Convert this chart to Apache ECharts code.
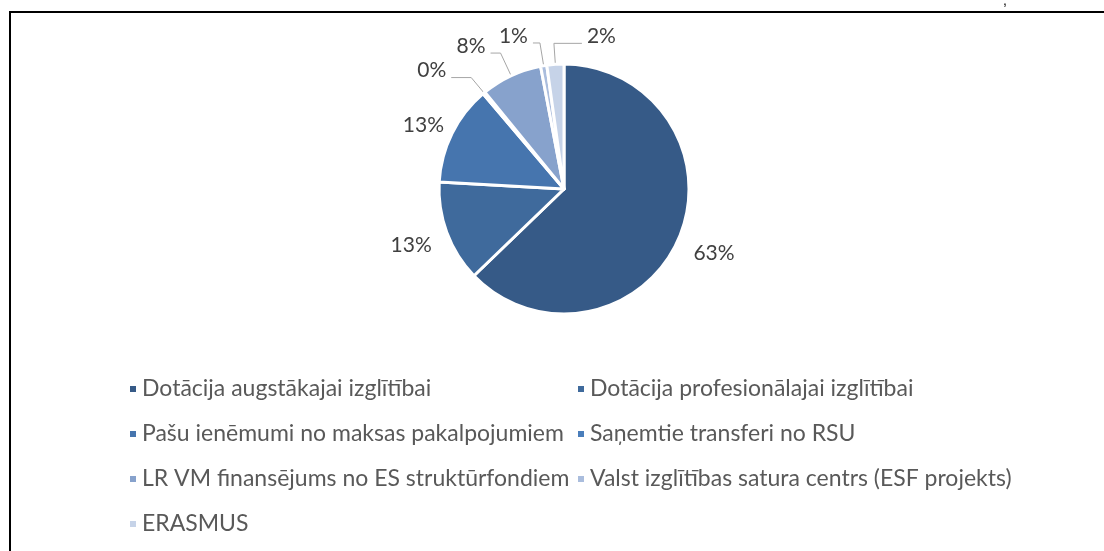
<!DOCTYPE html>
<html>
<head>
<meta charset="utf-8">
<script src="https://cdn.jsdelivr.net/npm/echarts@6/dist/echarts.min.js"></script>
<style>
  html, body { margin: 0; padding: 0; background: #fff; }
  #main { width: 1104px; height: 551px; }
</style>
</head>
<body>
<div id="main"></div>
<script>
// kategorijas un vērtības (%)
var categories = [
    'Dotācija augstākajai izglītībai',
    'Dotācija profesionālajai izglītībai',
    'Pašu ienēmumi no maksas pakalpojumiem',
    'Saņemtie transferi no RSU',
    'LR VM finansējums no ES struktūrfondiem',
    'Valst izglītības satura centrs (ESF projekts)',
    'ERASMUS'
];
var values = [62.8, 13.1, 12.9, 0.3, 7.9, 0.8, 2.2];
var colors = ['#365a87', '#3f6a9c', '#4675ae', '#4a7ebb', '#87a2cc', '#aabddd', '#c6d3e8'];

var leftLegend = [categories[0], categories[2], categories[4], categories[6]];
var rightLegend = [categories[1], categories[3], categories[5]];

// vadlīniju garumi mazajām daļām
var lineLen1 = [10, 10, 10, 20, 25, 23, 21];
var lineLen2 = [0, 0, 0, 20, 10, 7, 28];
// etiķešu attālums lielajām daļām
var labelDist = [38, 38, 32];

var myChart = echarts.init(document.getElementById('main'));

var pieData = categories.map(function (name, i) {
    return {
        name: name,
        value: values[i],
        itemStyle: { color: colors[i] },
        labelLine: {
            length: lineLen1[i],
            length2: lineLen2[i],
            lineStyle: { opacity: i < 3 ? 0 : 1 }
        }
    };
});

var legendText = {
    fontFamily: 'Lato',
    fontSize: 23,
    color: '#595959',
    lineHeight: 24
};

var option = {
    animation: false,
    backgroundColor: '#fff',
    legend: [
        {
            data: leftLegend,
            orient: 'vertical',
            left: 123,
            top: 372,
            itemWidth: 8,
            itemHeight: 8,
            itemGap: 21,
            icon: 'rect',
            textStyle: legendText
        },
        {
            data: rightLegend,
            orient: 'vertical',
            left: 571,
            top: 372,
            itemWidth: 8,
            itemHeight: 8,
            itemGap: 21,
            icon: 'rect',
            textStyle: legendText
        }
    ],
    graphic: [
        { type: 'line', shape: { x1: 9, y1: 12, x2: 1104, y2: 12 }, style: { stroke: '#000', lineWidth: 2 } },
        { type: 'line', shape: { x1: 10, y1: 11, x2: 10, y2: 551 }, style: { stroke: '#000', lineWidth: 2 } },
        { type: 'text', left: 1003, top: -6, style: { text: ',', fontSize: 14, fill: '#000' } }
    ],
    series: [
        {
            type: 'pie',
            center: [564, 189],
            radius: 125,
            startAngle: 90,
            clockwise: true,
            avoidLabelOverlap: false,
            itemStyle: { borderColor: '#fff', borderWidth: 3 },
            label: {
                show: true,
                position: 'outside',
                fontFamily: 'Lato',
                fontSize: 21,
                color: '#404040',
                formatter: function (p) { return Math.round(p.percent) + '%'; }
            },
            labelLine: {
                show: true,
                lineStyle: { color: '#a6a6a6', width: 1 }
            },
            labelLayout: function (params) {
                var pts = params.labelLinePoints;
                if (!pts) {
                    return;
                }
                var i = params.dataIndex;
                var p0 = pts[0], p1 = pts[1];
                if (i < 3) {
                    // lielās daļas: teksts uz viduslīnijas ārpus apļa
                    var dx = p1[0] - p0[0], dy = p1[1] - p0[1];
                    var len = Math.sqrt(dx * dx + dy * dy);
                    return {
                        x: p0[0] + dx / len * labelDist[i],
                        y: p0[1] + dy / len * labelDist[i] + (i === 2 ? 6 : 0),
                        align: 'center',
                        verticalAlign: 'middle'
                    };
                }
                if (i === 6) {
                    // ERASMUS etiķete pa labi
                    var p2 = [p1[0] + lineLen2[i], p1[1]];
                    return {
                        x: p2[0] + 5,
                        y: p2[1] - 7,
                        align: 'left',
                        verticalAlign: 'middle',
                        labelLinePoints: [p0, p1, p2]
                    };
                }
                return { dy: -7 };
            },
            emphasis: { disabled: true },
            data: pieData
        }
    ]
};

option && myChart.setOption(option);
</script>
</body>
</html>
